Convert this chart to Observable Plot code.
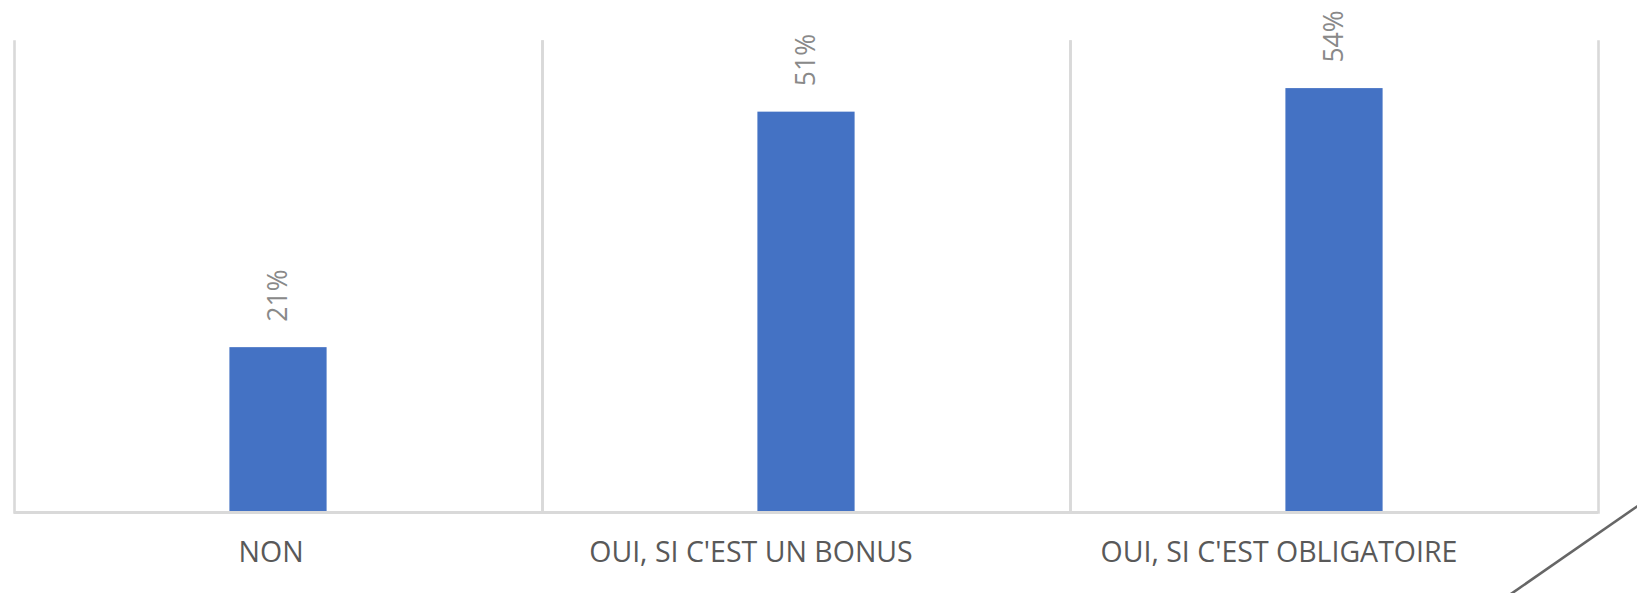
<!DOCTYPE html>
<html>
<head>
<meta charset="utf-8">
<script src="https://cdn.jsdelivr.net/npm/d3@7"></script>
<script src="https://cdn.jsdelivr.net/npm/@observablehq/plot@0.6"></script>
<style>
  html, body { margin: 0; padding: 0; background: #ffffff; }
  #wrap { position: relative; width: 1637px; height: 593px; overflow: hidden; }
  #wrap svg.deco { position: absolute; left: 0; top: 0; pointer-events: none; }
</style>
</head>
<body>
<div id="wrap"></div>
<script>
// Data
const categories = ["NON", "OUI, SI C'EST UN BONUS", "OUI, SI C'EST OBLIGATOIRE"];
const values = [21, 51, 54];            // percent
const valueLabels = ["21%", "51%", "54%"];
const yDomain = [0, 60];

const data = categories.map((c, i) => ({category: c, value: values[i], label: valueLabels[i]}));

const font = "'Open Sans', 'Noto Sans', sans-serif";
const grid = "#d9d9d9";

// The source labels sit slightly left of their bars (trailing padding in the original)
const trailing = {"NON": 2};
const tickFormat = (d) => d + "\u00a0".repeat(trailing[d] ?? 15);

const chart = Plot.plot({
  width: 1637,
  height: 593,
  marginLeft: 13,
  marginRight: 39,
  marginTop: 41,
  marginBottom: 81,
  style: {fontFamily: font, background: "#ffffff", overflow: "visible"},
  fx: {domain: categories, padding: 0, label: null},
  y: {domain: yDomain, axis: null},
  marks: [
    Plot.frame({anchor: "left", stroke: grid, strokeWidth: 2.6}),
    Plot.frame({anchor: "right", stroke: grid, strokeWidth: 2.6}),
    Plot.barY(data, {
      fx: "category",
      y: "value",
      fill: "#4472c4",
      insetLeft: 215.4,
      insetRight: 215.4
    }),
    Plot.ruleY([0], {stroke: grid, strokeWidth: 2.8}),
    Plot.text(data, {
      fx: "category",
      y: "value",
      text: "label",
      rotate: -90,
      textAnchor: "start",
      dy: -26,
      fontSize: 26.5,
      fill: "#898989",
      fontFamily: font
    }),
    Plot.axisFx({
      anchor: "bottom",
      tickSize: 0,
      tickPadding: 29.5,
      fontSize: 28.5,
      fill: "#595959",
      label: null,
      tickFormat,
      fontFamily: font
    })
  ]
});

const wrap = document.getElementById("wrap");
wrap.appendChild(chart);

// Decorative slide corner line (outside the chart area)
const ns = "http://www.w3.org/2000/svg";
const deco = document.createElementNS(ns, "svg");
deco.setAttribute("class", "deco");
deco.setAttribute("width", 1637);
deco.setAttribute("height", 593);
const ln = document.createElementNS(ns, "line");
ln.setAttribute("x1", 1650); ln.setAttribute("y1", 497.5);
ln.setAttribute("x2", 1510); ln.setAttribute("y2", 594.6);
ln.setAttribute("stroke", "#666666");
ln.setAttribute("stroke-width", 2.6);
deco.appendChild(ln);
wrap.appendChild(deco);
</script>
</body>
</html>
